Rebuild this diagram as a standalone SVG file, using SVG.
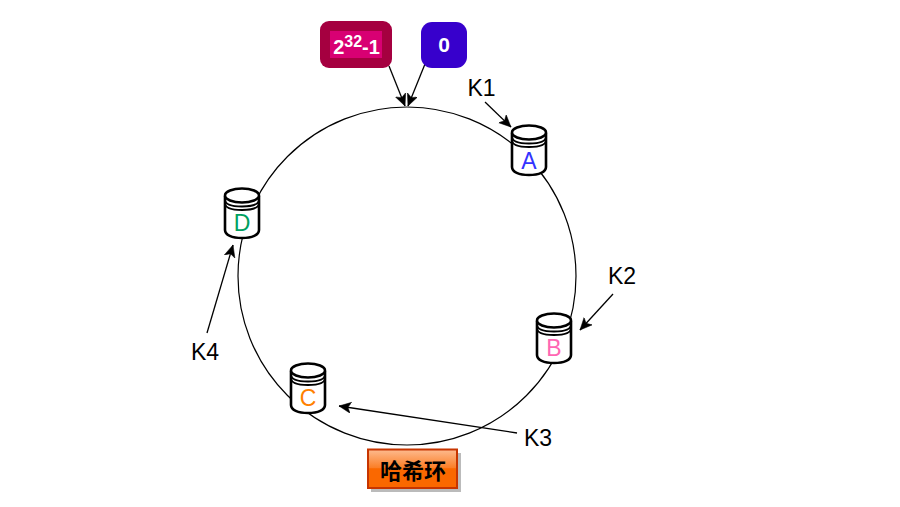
<svg xmlns="http://www.w3.org/2000/svg" width="900" height="507" viewBox="0 0 900 507">
<defs>
<linearGradient id="btn" x1="0" y1="0" x2="0" y2="1"><stop offset="0" stop-color="#fdbb90"/><stop offset="0.47" stop-color="#fb7f28"/><stop offset="0.5" stop-color="#fa6800"/><stop offset="1" stop-color="#fa6800"/></linearGradient>
<marker id="arr" markerUnits="userSpaceOnUse" markerWidth="14" markerHeight="12" refX="12" refY="5.500" orient="auto"><path d="M0 0L12 5.500L0 11L3 5.500Z" fill="#000" stroke="#000" stroke-width="0.500"/></marker>
<g id="cyl">
<path d="M0 8V42C0 47 7 50 17 50S34 47 34 42V8" fill="#fff" stroke="#000" stroke-width="2.600"/>
<ellipse cx="17" cy="7.500" rx="17" ry="7" fill="#fff" stroke="#000" stroke-width="2.600"/>
<path d="M0 11.500C0 16.500 7 18.500 17 18.500S34 16.500 34 11.500M0 15C0 20 7 22 17 22S34 20 34 15" fill="none" stroke="#000" stroke-width="1.800"/>
</g>
</defs>
<style>
.t{font-family:"Liberation Sans",Arial,sans-serif;font-size:23px;text-anchor:middle}
.k{fill:#000}
.w{fill:#fff;font-weight:bold}
.c{stroke:#000;stroke-width:1.300;fill:none;marker-end:url(#arr)}
</style>
<g id="ring"><circle cx="407" cy="276" r="169" fill="none" stroke="#000" stroke-width="1.200"/></g>
<g id="connectors">
<path class="c" d="M389 66L405 106"/>
<path class="c" d="M425 64L408 106"/>
<path class="c" d="M485 102L511 127"/>
<path class="c" d="M613 294L580 330"/>
<path class="c" d="M517 433L339 406"/>
<path class="c" d="M207 333L233 245"/>
</g>
<g id="node-max">
<rect x="320" y="21" width="72" height="47" rx="9" fill="#a50040"/>
<rect x="330" y="31" width="52" height="27" fill="#d80073"/>
<text x="356.500" y="54" text-anchor="middle" font-family="Liberation Sans, Arial, sans-serif" font-size="20" font-weight="bold" fill="#fff">2<tspan font-size="16" dy="-7">32</tspan><tspan dy="7">-1</tspan></text>
</g>
<g id="node-zero">
<rect x="421" y="22" width="46" height="46" rx="11" fill="#3700cc"/>
<text x="444" y="52" text-anchor="middle" font-family="Liberation Sans, Arial, sans-serif" font-size="21" class="w">0</text>
</g>
<g id="node-A"><use href="#cyl" x="512" y="125"/><text class="t" x="529" y="169" fill="#3333ff">A</text></g>
<g id="node-B"><use href="#cyl" x="537" y="313"/><text class="t" x="554" y="356" fill="#ff66b3">B</text></g>
<g id="node-C"><use href="#cyl" x="291" y="363"/><text class="t" x="308" y="406" fill="#ff8000">C</text></g>
<g id="node-D"><use href="#cyl" x="225" y="188"/><text class="t" x="242" y="231" fill="#00a060">D</text></g>
<g id="label-K1"><text class="t k" x="481.500" y="96">K1</text></g>
<g id="label-K2"><text class="t k" x="622" y="284">K2</text></g>
<g id="label-K3"><text class="t k" x="538" y="446">K3</text></g>
<g id="label-K4"><text class="t k" x="205" y="360">K4</text></g>
<g id="node-title">
<rect x="371" y="453" width="90" height="39" fill="#bbb"/>
<rect x="368" y="449.500" width="89" height="38.500" fill="url(#btn)" stroke="#c73500" stroke-width="2"/>
<text x="413" y="478.500" text-anchor="middle" font-family="Liberation Sans, 'Noto Sans CJK SC', sans-serif" font-size="22" font-weight="bold" fill="#000">哈希环</text>
</g>
</svg>
